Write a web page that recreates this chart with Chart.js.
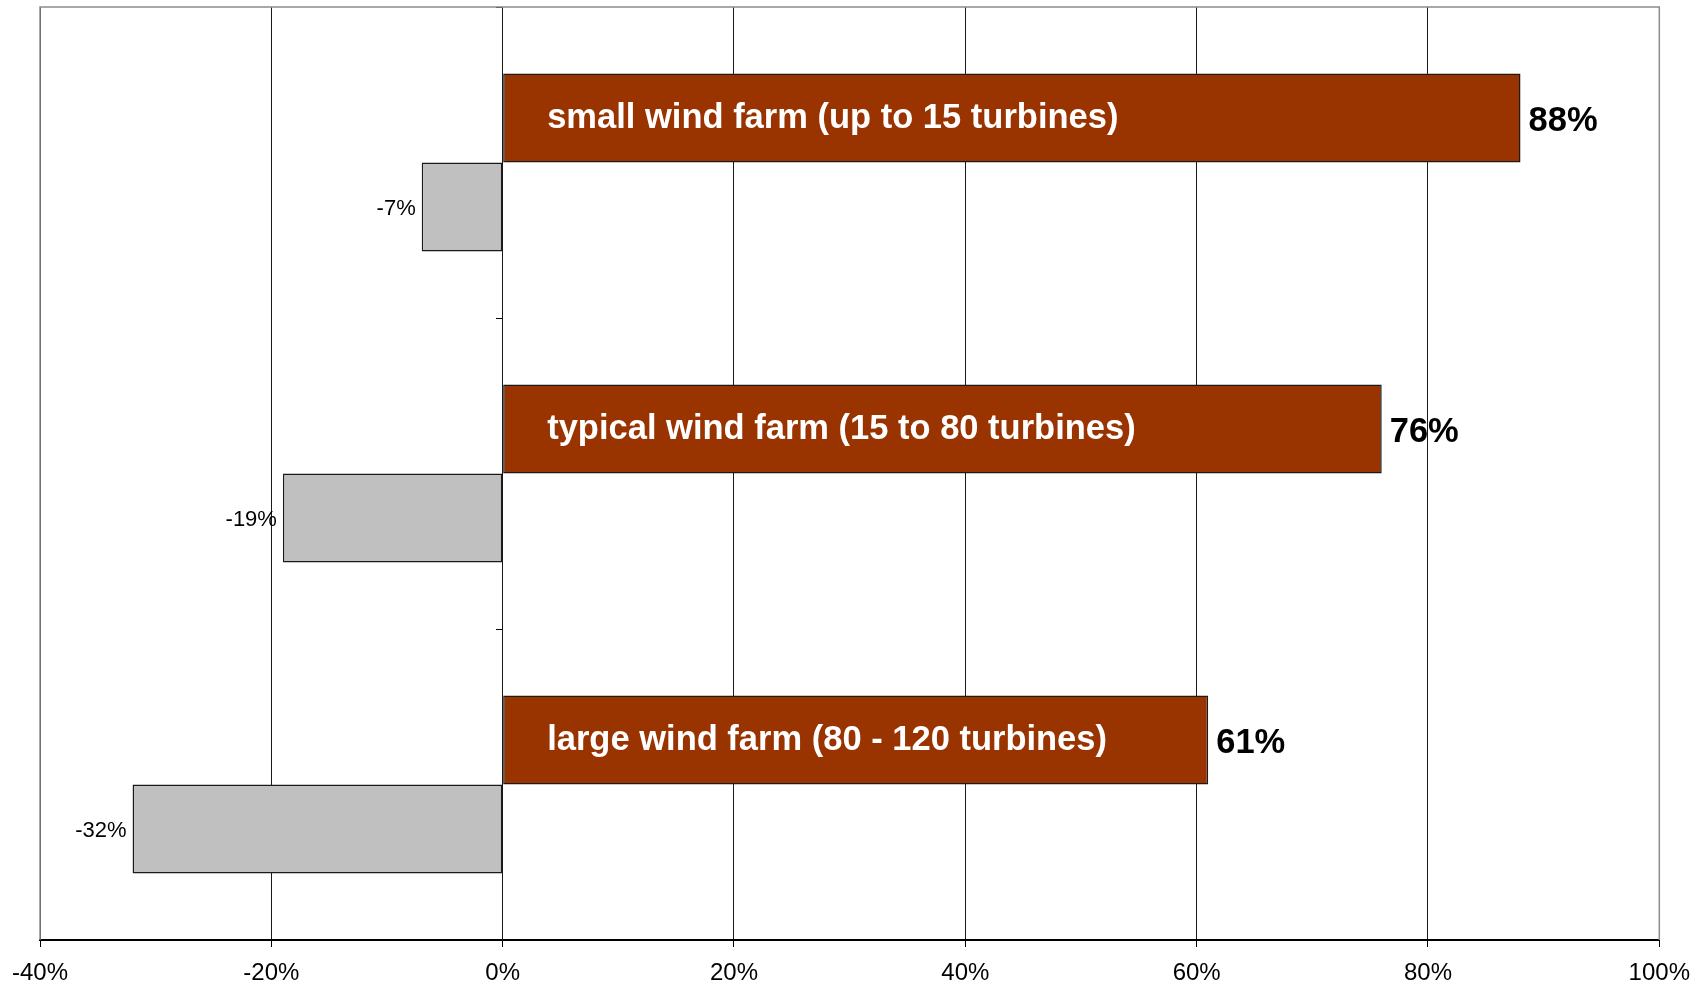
<!DOCTYPE html>
<html>
<head>
<meta charset="utf-8">
<script src="https://cdn.jsdelivr.net/npm/chart.js@4.4.1/dist/chart.umd.min.js"></script>
<style>
  html, body { margin: 0; padding: 0; background: #fff; }
  #wrap { width: 1702px; height: 984px; position: relative; }
</style>
</head>
<body>
<div id="wrap"><canvas id="windChart"></canvas></div>
<script>
// chart data
const categories = [
  "small wind farm (up to 15 turbines)",
  "typical wind farm (15 to 80 turbines)",
  "large wind farm (80 - 120 turbines)"
];
const positiveValues = [88, 76, 61];
const negativeValues = [-7, -19, -32];
const xTicks = [-40, -20, 0, 20, 40, 60, 80, 100];

const FONT = "'Liberation Sans', Arial, Helvetica, sans-serif";

// gray frame on top / left / right of the plot area
const plotFrame = {
  id: "plotFrame",
  beforeDatasetsDraw(chart) {
    const { ctx, chartArea: a } = chart;
    ctx.save();
    ctx.strokeStyle = "#8c8c8c";
    ctx.lineWidth = 1.5;
    ctx.beginPath();
    ctx.moveTo(a.left, a.bottom);
    ctx.lineTo(a.left, a.top);
    ctx.lineTo(a.right, a.top);
    ctx.lineTo(a.right, a.bottom);
    ctx.stroke();
    ctx.restore();
  }
};

// category names inside the brown bars, values next to each bar
const barLabels = {
  id: "barLabels",
  afterDatasetsDraw(chart) {
    const ctx = chart.ctx;
    ctx.save();
    ctx.textBaseline = "middle";

    const pos = chart.getDatasetMeta(0).data;
    pos.forEach((bar, i) => {
      ctx.font = "bold 34.5px " + FONT;
      ctx.fillStyle = "#fff";
      ctx.textAlign = "left";
      ctx.fillText(categories[i], bar.base + 44, bar.y + 1);

      ctx.fillStyle = "#000";
      ctx.fillText(positiveValues[i] + "%", bar.x + 8, bar.y + 4);
    });

    const neg = chart.getDatasetMeta(1).data;
    neg.forEach((bar, i) => {
      ctx.font = "22px " + FONT;
      ctx.fillStyle = "#000";
      ctx.textAlign = "right";
      ctx.fillText(negativeValues[i] + "%", bar.x - 6, bar.y + 2);
    });
    ctx.restore();
  }
};

const ctx = document.getElementById("windChart").getContext("2d");

new Chart(ctx, {
  type: "bar",
  data: {
    labels: categories,
    datasets: [
      {
        label: "positive",
        data: positiveValues,
        backgroundColor: "#993300",
        borderColor: "#1a1a1a",
        borderWidth: 1.5,
        borderSkipped: false
      },
      {
        label: "negative",
        data: negativeValues,
        backgroundColor: "#c0c0c0",
        borderColor: "#1a1a1a",
        borderWidth: 1.5,
        borderSkipped: false
      }
    ]
  },
  options: {
    indexAxis: "y",
    responsive: true,
    maintainAspectRatio: false,
    animation: false,
    categoryPercentage: 0.573,
    barPercentage: 1,
    layout: { padding: { left: 38, right: 41, top: 7, bottom: 0 } },
    plugins: {
      legend: { display: false },
      tooltip: { enabled: false }
    },
    scales: {
      x: {
        min: -40,
        max: 100,
        afterBuildTicks: (scale) => {
          scale.ticks = xTicks.map(v => ({ value: v }));
        },
        afterFit: (scale) => {
          scale.height = 44;
        },
        grid: {
          color: "#1a1a1a",
          lineWidth: 1,
          tickLength: 7,
          tickColor: "#000"
        },
        border: { color: "#000", width: 2 },
        ticks: {
          padding: 12,
          color: "#000",
          font: { family: FONT, size: 24 },
          callback: (v) => v + "%"
        }
      },
      y: {
        position: { x: 0 },
        grid: {
          drawOnChartArea: false,
          tickLength: 6,
          color: "#000"
        },
        border: { color: "#1a1a1a", width: 1 },
        ticks: { display: false }
      }
    }
  },
  plugins: [plotFrame, barLabels]
});
</script>
</body>
</html>
